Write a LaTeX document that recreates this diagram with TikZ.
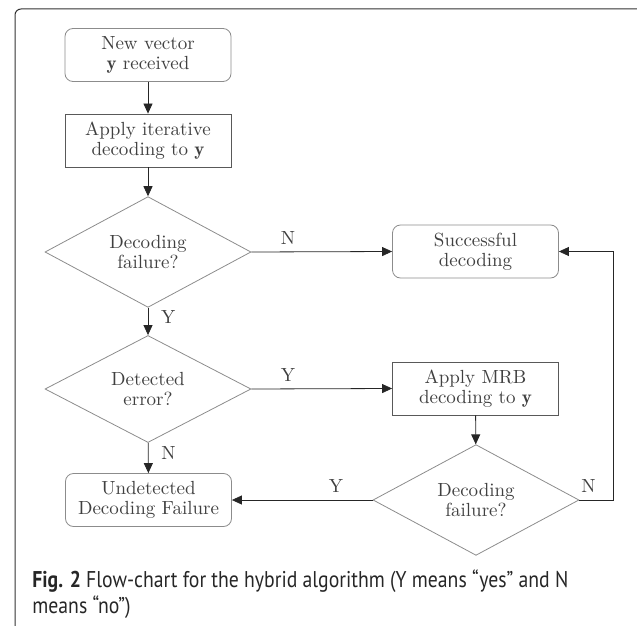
\documentclass[tikz,border=0pt]{standalone}
\usepackage{graphicx}
\usepackage{fontspec}
\newfontfamily\capfont{PT Sans}
\usetikzlibrary{shapes.geometric,arrows.meta}
\begin{document}
\begin{tikzpicture}[x=0.5pt,y=-0.5pt,
        font=\fontsize{9.5}{10}\selectfont, text=black!75,
        term/.style={draw=black!45, rounded corners=4pt, minimum width=83pt, minimum height=26.5pt, align=center, inner sep=0pt},
        proc/.style={draw=black!65, minimum width=83pt, minimum height=26.5pt, align=center, inner sep=0pt},
        test/.style={draw=black!45, diamond, minimum width=103pt, minimum height=51pt, align=center, inner sep=0pt},
        flow/.style={draw=black!85, -{Triangle[length=5pt,width=4.5pt]}}]
        \useasboundingbox (0,0) rectangle (637,626);
        \draw[black!80, line width=0.5pt, rounded corners=3pt] (15,626) -- (15,9) -- (637,9);

        \node[term] (1) at (148,55) {New vector\\$\mathbf{y}$ received};
        \node[proc] (2) at (148,140.5) {Apply iterative\\decoding to $\mathbf{y}$};
        \node[test] (3) at (148,252) {Decoding\\failure?};
        \node[test] (4) at (148,389) {Detected\\error?};
        \node[term] (5) at (148.5,500) {Undetected\\Decoding Failure};
        \node[term] (6) at (475.5,251.5) {Successful\\decoding};
        \node[proc] (7) at (475.5,388.5) {Apply MRB\\decoding to $\mathbf{y}$};
        \node[test] (8) at (476,500) {Decoding\\failure?};
        \coordinate (rail) at (613,0);

        \path[flow] (1) -- (2);
        \path[flow] (2) -- (3);
        \path[flow] (3) -- node[pos=0.34, right, xshift=3pt] {Y} (4);
        \path[flow] (4) -- node[pos=0.35, right, xshift=3pt] {N} (5);
        \path[flow] (3.east) -- node[pos=0.26, above] {N} (6.west);
        \path[flow] (4.east) -- node[pos=0.26, above] {Y} (7.west);
        \path[flow] (7) -- (8);
        \path[flow] (8.west) -- node[pos=0.26, above] {Y} (5.east);
        \path[flow] (8.east) -- node[pos=0.27, above] {N} (8.east -| rail) |- (6.east);

        % caption, squeezed to the width of the first line
        \node[anchor=base west, inner sep=0pt, text=black!85, font=\capfont\fontsize{11.4}{13}\selectfont] (cap) at (32,587)
            {\resizebox{268pt}{\height}{\begin{tabular}[t]{@{}l@{}}\textbf{Fig. 2} Flow-chart for the hybrid algorithm (Y means “yes” and N\\means “no”)\end{tabular}}};
    \end{tikzpicture}
\end{document}
